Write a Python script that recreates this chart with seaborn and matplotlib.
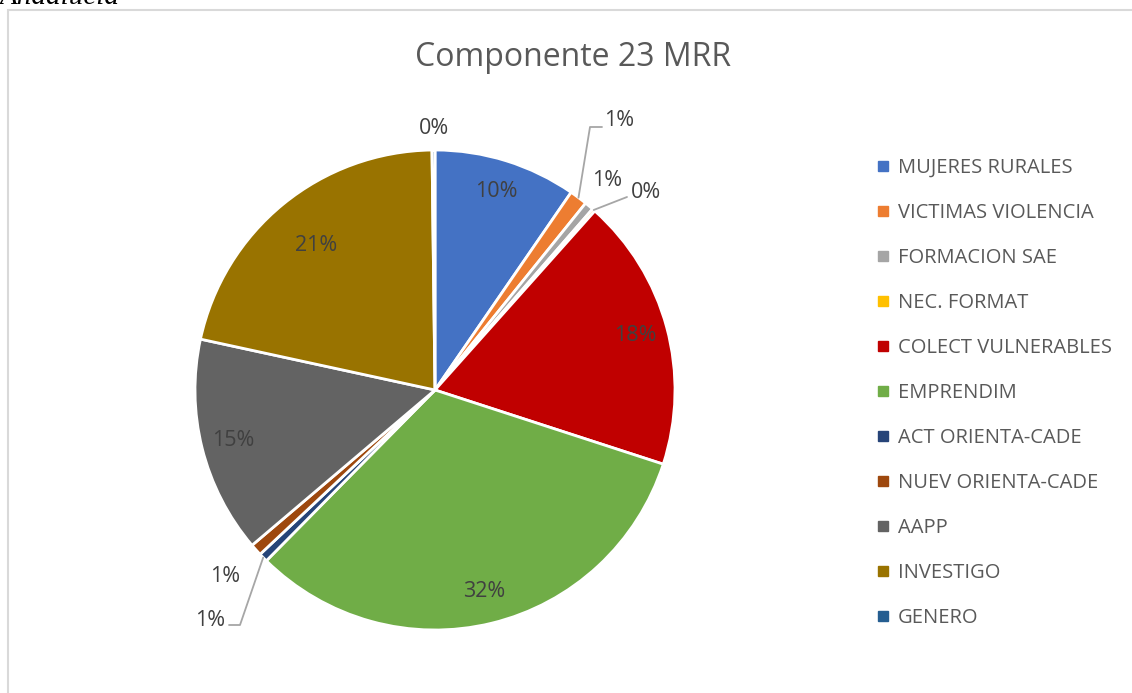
import numpy as np
import seaborn as sns
import matplotlib.pyplot as plt
from matplotlib.patches import Rectangle
from matplotlib.lines import Line2D

# data (shares in %)
categorias = ['MUJERES RURALES', 'VICTIMAS VIOLENCIA', 'FORMACION SAE', 'NEC. FORMAT',
              'COLECT VULNERABLES', 'EMPRENDIM', 'ACT ORIENTA-CADE', 'NUEV ORIENTA-CADE',
              'AAPP', 'INVESTIGO', 'GENERO']
valores = [9.6, 1.2, 0.6, 0.2, 18.4, 32.4, 0.6, 0.8, 14.6, 21.4, 0.2]
colores = ['#4472C4', '#ED7D31', '#A5A5A5', '#FFC000', '#C00000', '#70AD47',
           '#264478', '#9E480E', '#636363', '#997300', '#255E91']

sns.set_theme(style='white')
plt.rcParams['font.family'] = ['Open Sans', 'DejaVu Sans']

fig = plt.figure(figsize=(11.32, 6.93), dpi=100)

# outer frame of the chart area (cut off at right/bottom)
fig.patches.append(Rectangle((8 / 1132, -0.05), 1.2, 1 - 10 / 693 + 0.05,
                             transform=fig.transFigure, fill=False,
                             edgecolor='#d9d9d9', linewidth=1.5))
fig.text(0.0, 1 - 4 / 693, 'Andalucía', fontsize=21, fontstyle='italic',
         family='Liberation Serif', va='baseline', ha='left', color='black')

# pie: center (435, 390) px, radius 240 px
ax = fig.add_axes([135 / 1132, 3 / 693, 600 / 1132, 600 / 693])
wedges, _ = ax.pie(valores, colors=sns.color_palette(colores), startangle=90,
                   counterclock=False,
                   wedgeprops=dict(edgecolor='white', linewidth=2))
ax.set_xlim(-1.25, 1.25)
ax.set_ylim(-1.25, 1.25)
ax.set_aspect('equal')
ax.axis('off')

def px(x, y):
    return (x - 435) / 240, (390 - y) / 240

txt = dict(fontsize=15.5, color='#404040', ha='center', va='center')
etiquetas = ['%.0f%%' % v for v in valores]

# labels inside the big slices
for i, w in enumerate(wedges):
    if valores[i] < 5:
        continue
    ang = np.deg2rad((w.theta1 + w.theta2) / 2)
    d = 0.78 if categorias[i] == 'INVESTIGO' else 0.865
    ax.text(d * np.cos(ang), d * np.sin(ang), etiquetas[i], **txt)

# small slices: labels outside, some with leader lines
fuera = {'VICTIMAS VIOLENCIA': (px(619, 120), [px(590, 127), px(602, 127)]),
         'FORMACION SAE': (px(607, 181), None),
         'NEC. FORMAT': (px(646, 193), [px(627, 197)]),
         'ACT ORIENTA-CADE': (px(210, 621), [px(240, 625), px(229, 625)]),
         'NUEV ORIENTA-CADE': (px(225, 576), None),
         'GENERO': (px(434, 129), None)}
for nombre, (pos, linea) in fuera.items():
    i = categorias.index(nombre)
    ax.text(pos[0], pos[1], etiquetas[i], **txt)
    if linea:
        w = wedges[i]
        ang = np.deg2rad((w.theta1 + w.theta2) / 2)
        xs = [np.cos(ang)] + [p[0] for p in linea]
        ys = [np.sin(ang)] + [p[1] for p in linea]
        ax.plot(xs, ys, color='#a6a6a6', linewidth=1.3, clip_on=False)

fig.text(573 / 1132, 1 - 58 / 693, 'Componente 23 MRR', fontsize=23,
         color='#595959', ha='center', va='center')

handles = [Line2D([], [], marker='s', linestyle='none', markersize=7,
                  markerfacecolor=c, markeredgecolor=c) for c in colores]
fig.legend(handles, categorias, loc='upper left',
           bbox_to_anchor=(865 / 1132, 1 - 150 / 693), frameon=False,
           fontsize=14.5, labelcolor='#595959', handletextpad=0.25,
           handlelength=1.0, labelspacing=1.24, borderaxespad=0)

fig.savefig('out.png', dpi=100)
